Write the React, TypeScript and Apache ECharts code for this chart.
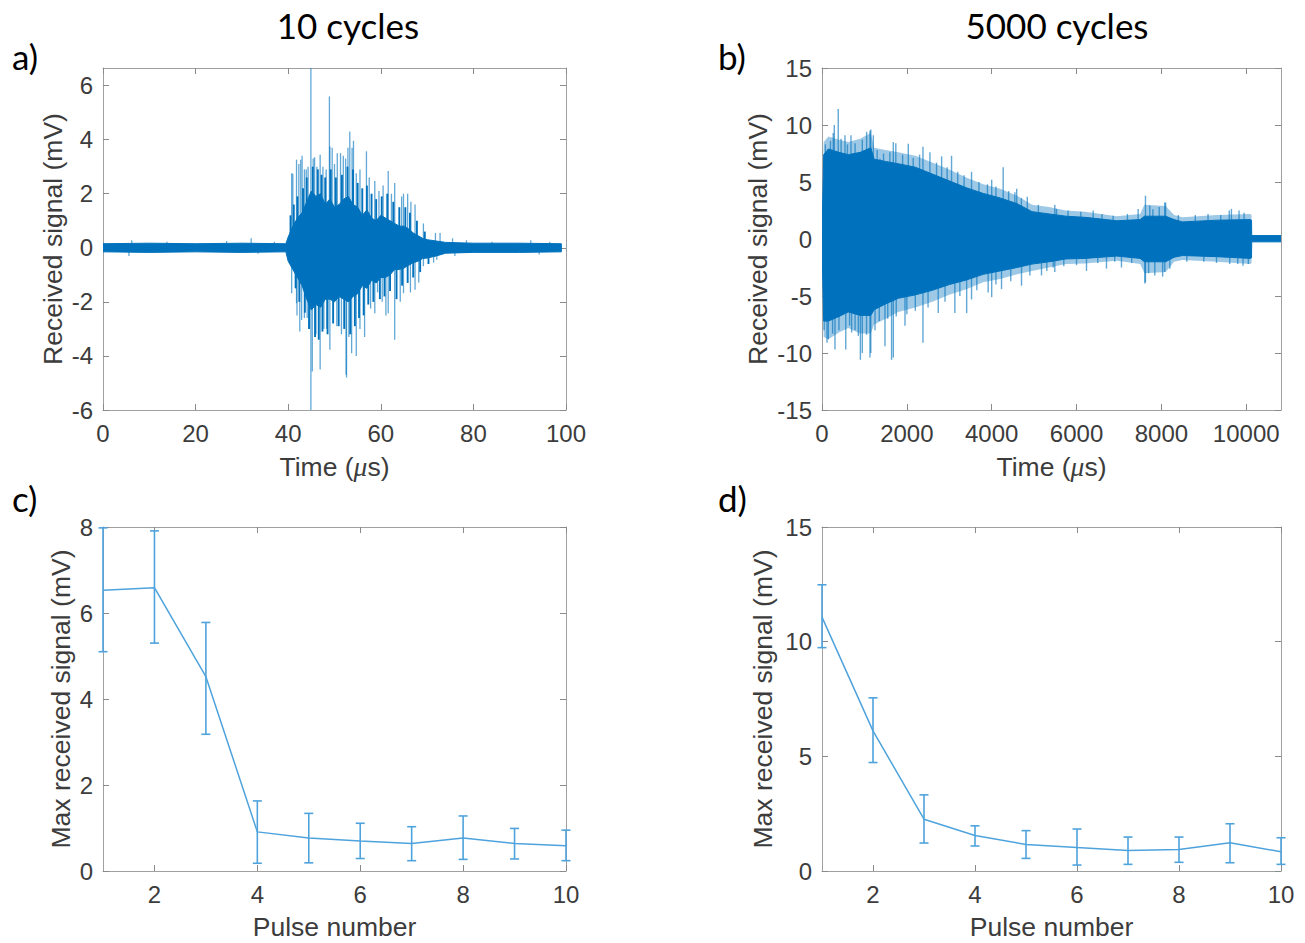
import React, { useEffect, useRef } from "react";
import * as echarts from "echarts";

// ---------- tick labels ----------
const aTimeTicks = [0, 20, 40, 60, 80, 100];
const aSignalTicks = [-6, -4, -2, 0, 2, 4, 6];
const bTimeTicks = [0, 2000, 4000, 6000, 8000, 10000];
const bSignalTicks = [-15, -10, -5, 0, 5, 10, 15];
const pulseTicks = [2, 4, 6, 8, 10];
const cMaxTicks = [0, 2, 4, 6, 8];
const dMaxTicks = [0, 5, 10, 15];

// ---------- panel a: 10 cycles (time in µs, signal in mV) ----------
const aCoreTime = [0, 10, 20, 30, 39.5, 40, 41, 42, 43, 44, 45, 46, 47, 48, 49, 50, 51, 52, 53, 54, 55, 56, 57, 58, 59, 60, 61, 62, 63, 64, 65, 66, 67, 68, 69, 70, 72, 74, 80, 90, 99];
const aCoreHigh = [0.15, 0.17, 0.15, 0.17, 0.15, 0.4, 0.8, 1.1, 1.3, 1.7, 2.1, 1.9, 2.0, 1.6, 1.8, 1.5, 1.6, 1.8, 1.9, 1.6, 1.5, 1.2, 1.4, 1.1, 1.0, 1.2, 1.1, 1.0, 0.9, 0.8, 0.8, 0.7, 0.55, 0.45, 0.35, 0.3, 0.25, 0.2, 0.17, 0.17, 0.15];
const aCoreLow = [-0.15, -0.17, -0.15, -0.17, -0.15, -0.5, -0.8, -1.1, -1.4, -1.9, -2.3, -2.1, -2.2, -1.9, -1.9, -2.0, -1.8, -1.9, -2.0, -1.8, -1.7, -1.4, -1.5, -1.2, -1.3, -1.1, -1.1, -1.0, -0.8, -0.8, -0.75, -0.65, -0.55, -0.5, -0.4, -0.38, -0.3, -0.2, -0.17, -0.17, -0.15];
// dark, dense oscillation peaks inside the burst
const aDensePeaks: [number, number][] = [
  [40.5, 1.2], [41.2, 1.6], [41.6, -1.5], [42.0, 1.9], [42.4, -2.0], [43.2, 2.2], [43.6, -2.4], [44.0, 2.6], [44.5, -3.0],
  [45.3, 3.0], [45.8, -3.3], [46.4, 2.9], [46.6, -3.4], [47.2, 2.7], [47.4, -3.1], [48.0, 2.6], [48.5, -3.2], [49.2, 2.9],
  [49.7, -2.8], [50.3, 2.6], [50.9, -2.9], [51.6, 2.7], [52.1, -3.0], [52.8, 3.0], [53.4, -3.2], [54.0, 2.9], [54.4, -2.9],
  [55.0, 2.4], [55.3, -2.6], [56.0, 2.2], [56.3, -2.5], [57.0, 2.3], [57.3, -2.1], [58.0, 2.0], [58.4, -2.0], [59.0, 1.8],
  [59.8, -1.9], [60.2, 1.9], [60.8, -1.8], [61.4, 2.0], [62.0, -1.6], [62.7, 1.7], [63.4, -1.9], [64.0, 1.5], [64.6, -1.4],
  [65.3, 1.5], [65.8, -1.3], [66.3, 1.3], [67.0, -1.1], [67.8, 1.0], [68.5, -0.9], [69.5, 0.6], [70.3, -0.6],
];
// thin outer spikes
const aSpikes: [number, number][] = [
  [5.6, -0.3], [6.2, 0.28], [13.8, 0.22], [26.7, 0.25], [32.0, 0.35], [33.5, -0.22], [37.0, 0.22],
  [40.75, 2.76], [41.0, 2.74], [41.8, 3.26], [42.3, 3.1], [42.7, 3.26], [43.0, 3.4], [43.5, 2.9], [43.9, 2.9], [44.3, 3.0],
  [44.9, 6.65], [45.4, 3.3], [45.7, 3.35], [46.2, 3.0], [46.9, 3.44], [47.5, 3.0], [48.2, 2.9], [48.9, 5.6], [49.0, 3.75],
  [49.5, 3.7], [50.0, 3.1], [50.6, 3.5], [51.3, 3.5], [51.9, 3.4], [52.4, 3.3], [52.9, 3.7], [53.3, 4.3], [53.8, 3.7],
  [54.1, 3.96], [54.7, 2.76], [55.5, 2.9], [56.9, 3.57], [57.5, 2.6], [58.7, 2.47], [59.6, 2.1], [60.5, 2.3], [61.6, 2.84],
  [62.3, 2.0], [63.0, 2.4], [64.5, 1.9], [64.9, 2.0], [65.8, 2.0], [66.5, 1.7], [67.4, 1.6], [69.2, 0.9], [71.8, 0.55], [72.8, 0.55],
  [40.75, -1.68], [41.8, -2.05], [41.9, -2.5], [42.5, -3.1], [42.9, -2.67], [43.5, -2.6], [44.1, -2.6], [44.9, -6.0],
  [45.2, -4.58], [46.0, -3.2], [46.9, -4.5], [47.7, -3.0], [48.3, -3.0], [49.0, -3.77], [50.5, -2.9], [51.5, -3.2],
  [52.5, -4.7], [52.6, -4.8], [53.1, -3.3], [53.7, -3.9], [54.7, -4.0], [55.5, -3.0], [56.5, -3.3], [57.8, -2.25],
  [58.7, -2.42], [59.3, -1.65], [60.3, -2.0], [61.1, -2.5], [61.6, -2.42], [63.0, -3.4], [64.2, -2.0], [64.9, -1.68],
  [66.4, -1.65], [67.4, -1.55], [68.2, -1.28], [69.2, -0.68], [71.4, -0.55], [72.1, -0.44],
  [75.5, 0.35], [76.0, -0.3], [78.5, 0.28], [84.0, 0.22], [92.4, 0.28], [94.2, -0.25], [96.5, 0.22],
];

// ---------- panel b: 5000 cycles ----------
const bCoreTime = [0, 40, 150, 400, 620, 900, 1150, 1230, 1500, 1800, 2200, 2600, 3000, 3400, 3800, 4200, 4600, 4950, 5350, 5750, 6200, 6950, 7500, 7600, 8100, 8300, 8500, 9300, 10100, 10125, 10130, 10820];
const bCoreHigh = [0.3, 7.4, 7.9, 7.6, 7.4, 7.6, 8.0, 7.0, 6.8, 6.6, 6.3, 5.7, 5.1, 4.5, 4.0, 3.6, 3.1, 2.4, 2.2, 2.0, 1.9, 1.6, 1.7, 2.0, 2.0, 1.7, 1.5, 1.65, 1.7, 1.65, 0.3, 0.3];
const bCoreLow = [-0.3, -7.2, -7.2, -6.8, -6.4, -6.7, -6.7, -6.2, -5.7, -5.2, -4.9, -4.5, -4.0, -3.6, -3.1, -2.8, -2.5, -2.2, -2.0, -1.75, -1.7, -1.5, -1.7, -2.0, -2.0, -1.6, -1.45, -1.55, -1.7, -1.65, -0.25, -0.25];
const bFringeHigh = [0.3, 8.5, 9.0, 8.7, 8.5, 8.8, 9.3, 8.0, 7.8, 7.6, 7.3, 6.7, 6.1, 5.4, 4.8, 4.4, 3.8, 3.0, 2.8, 2.5, 2.4, 2.0, 2.2, 3.0, 2.9, 2.1, 1.9, 2.1, 2.2, 2.1, 0.3, 0.3];
const bFringeLow = [-0.3, -8.6, -8.8, -8.2, -7.8, -8.3, -8.3, -7.5, -7.0, -6.4, -6.0, -5.5, -4.9, -4.4, -3.8, -3.5, -3.1, -2.8, -2.5, -2.2, -2.15, -1.9, -2.2, -3.0, -2.9, -2.0, -1.85, -2.0, -2.2, -2.1, -0.25, -0.25];
const bSpikes: [number, number][] = [
  [80, 8.3], [200, 8.6], [265, 9.3], [290, 10.0], [383, 11.4], [450, 8.8], [542, 9.1], [600, 8.3], [683, 9.1], [780, 8.4],
  [950, 8.7], [1052, 9.4], [1131, 9.5], [1150, 9.6], [1210, 9.1], [1300, 7.8], [1367, 7.05], [1450, 7.5], [1600, 7.6],
  [1681, 8.5], [1740, 8.4], [1900, 7.4], [2034, 8.35], [2150, 7.1], [2300, 7.4], [2380, 8.1], [2544, 7.6], [2700, 6.7],
  [2820, 7.25], [2950, 6.3], [3054, 7.3], [3200, 5.9], [3350, 5.6], [3525, 5.9], [3700, 5.0], [3900, 4.8], [4000, 5.2],
  [4100, 4.6], [4271, 6.3], [4400, 4.2], [4546, 4.1], [4590, 4.4], [4700, 3.6], [4840, 3.7], [5100, 3.0], [5488, 3.0],
  [5529, 2.64], [5800, 2.5], [6100, 2.4], [6392, 2.5], [6600, 2.2], [6863, 2.05], [7200, 2.2], [7452, 2.64], [7625, 3.8],
  [7727, 2.94], [7800, 2.6], [7950, 2.8], [8080, 3.2], [8100, 3.2], [8400, 2.1], [8800, 2.1], [9100, 2.2], [9400, 2.1],
  [9600, 2.5], [9651, 2.64], [9831, 2.5], [9950, 2.3],
  [50, -8.0], [118, -9.1], [149, -8.8], [250, -8.3], [306, -9.7], [400, -8.0], [560, -9.7], [650, -7.6], [699, -8.2],
  [780, -8.0], [856, -8.5], [905, -10.6], [950, -10.0], [1050, -8.4], [1131, -10.4], [1150, -10.0], [1250, -8.0],
  [1350, -7.2], [1484, -9.4], [1550, -7.0], [1640, -10.6], [1681, -10.4], [1750, -6.8], [1956, -7.6], [2000, -6.6],
  [2200, -6.3], [2380, -9.1], [2500, -6.0], [2740, -6.5], [2900, -5.5], [3132, -6.5], [3250, -5.0], [3410, -6.5],
  [3525, -5.3], [3650, -4.5], [3917, -4.7], [4000, -5.1], [4100, -4.0], [4232, -4.4], [4450, -3.7], [4703, -4.1],
  [4900, -3.2], [5174, -3.2], [5300, -2.8], [5450, -2.5], [5488, -2.9], [5700, -2.4], [6000, -2.3], [6235, -2.8],
  [6500, -2.1], [6706, -2.6], [6900, -2.0], [7059, -2.5], [7300, -2.1], [7610, -3.9], [7625, -3.8], [7700, -3.0],
  [7845, -3.2], [8030, -3.3], [8080, -2.9], [8200, -2.6], [8600, -2.0], [9000, -2.0], [9300, -2.1], [9611, -2.2],
  [9800, -2.2], [9925, -2.35], [10050, -2.2],
];

// ---------- panel c: 10 cycles, max received signal per pulse ----------
const cPulse = [1, 2, 3, 4, 5, 6, 7, 8, 9, 10];
const cMean = [6.53, 6.59, 4.52, 0.91, 0.77, 0.70, 0.64, 0.77, 0.64, 0.59];
const cLow = [5.10, 5.30, 3.18, 0.18, 0.19, 0.29, 0.24, 0.27, 0.28, 0.24];
const cHigh = [7.98, 7.91, 5.78, 1.63, 1.34, 1.11, 1.03, 1.28, 0.99, 0.95];

// ---------- panel d: 5000 cycles ----------
const dPulse = [1, 2, 3, 4, 5, 6, 7, 8, 9, 10];
const dMean = [11.07, 6.11, 2.26, 1.55, 1.16, 1.02, 0.89, 0.94, 1.23, 0.84];
const dLow = [9.74, 4.73, 1.22, 1.09, 0.55, 0.26, 0.29, 0.38, 0.36, 0.29];
const dHigh = [12.48, 7.55, 3.32, 1.97, 1.76, 1.83, 1.48, 1.48, 2.06, 1.45];

// ---------- styles ----------
const WAVE = "#0072BD";
const WAVE_LIGHT = "rgba(0,114,189,0.62)";
const WAVE_FRINGE = "rgba(0,114,189,0.38)";
const PULSE = "#4fa3dd";
const BOX = "#a0a0a0";
const TICK = "#8a8a8a";
const TXT = "#3c3c3c";
const SANS = "'Liberation Sans', Arial, sans-serif";
const TICK_FS = 24;
const NAME_FS = 26.5;

const GRIDS = [
  { left: 103, top: 68, width: 463, height: 342 },
  { left: 822, top: 68, width: 459, height: 342 },
  { left: 103, top: 527, width: 463, height: 344 },
  { left: 822, top: 527, width: 459, height: 344 },
];

const timeName = "Time ({mu|μ}s)";
const nameStyle = {
  color: TXT,
  fontSize: NAME_FS,
  fontFamily: SANS,
  rich: {
    mu: { fontStyle: "italic", fontFamily: "'Liberation Serif', serif", fontSize: NAME_FS + 1, color: TXT },
  },
};

const plain = (v: number) => String(v);

function xAxesFor(grid: number, min: number, max: number, ticks: number[], name: string, nameGap: number) {
  const common: any = {
    type: "value",
    gridIndex: grid,
    min,
    max,
    splitLine: { show: false },
    axisLine: { show: true, onZero: false, lineStyle: { color: BOX, width: 1 } },
    axisTick: { show: true, inside: true, length: 6, customValues: ticks, lineStyle: { color: TICK, width: 1 } },
  };
  return [
    {
      ...common,
      position: "bottom",
      name,
      nameLocation: "middle",
      nameGap,
      nameTextStyle: nameStyle,
      axisLabel: { show: true, customValues: ticks, formatter: plain, margin: 11, color: TXT, fontSize: TICK_FS, fontFamily: SANS },
    },
    { ...common, position: "top", axisLabel: { show: false } },
  ];
}

function yAxesFor(grid: number, min: number, max: number, ticks: number[], name: string, nameGap: number) {
  const common: any = {
    type: "value",
    gridIndex: grid,
    min,
    max,
    splitLine: { show: false },
    axisLine: { show: true, onZero: false, lineStyle: { color: BOX, width: 1 } },
    axisTick: { show: true, inside: true, length: 6, customValues: ticks, lineStyle: { color: TICK, width: 1 } },
  };
  return [
    {
      ...common,
      position: "left",
      name,
      nameLocation: "middle",
      nameRotate: 90,
      nameGap,
      nameTextStyle: nameStyle,
      axisLabel: { show: true, customValues: ticks, formatter: plain, margin: 10, color: TXT, fontSize: TICK_FS, fontFamily: SANS },
    },
    { ...common, position: "right", axisLabel: { show: false } },
  ];
}

function bandSeries(idx: number, ts: number[], hi: number[], lo: number[], color: string, outline: boolean) {
  return {
    type: "custom",
    xAxisIndex: idx * 2,
    yAxisIndex: idx * 2,
    clip: true,
    silent: true,
    data: [[ts[0], 0]],
    renderItem: (_p: any, api: any) => {
      const pts: number[][] = [];
      for (let i = 0; i < ts.length; i++) pts.push(api.coord([ts[i], hi[i]]));
      for (let i = ts.length - 1; i >= 0; i--) pts.push(api.coord([ts[i], lo[i]]));
      return {
        type: "polygon",
        shape: { points: pts },
        style: outline ? { fill: color, stroke: color, lineWidth: 1 } : { fill: color, stroke: null, lineWidth: 0 },
      };
    },
  };
}

function spikeSeries(idx: number, spikes: [number, number][], color: string, width: number) {
  return {
    type: "custom",
    xAxisIndex: idx * 2,
    yAxisIndex: idx * 2,
    clip: true,
    silent: true,
    data: spikes,
    renderItem: (_p: any, api: any) => {
      const t = api.value(0);
      const v = api.value(1);
      const p0 = api.coord([t, 0]);
      const p1 = api.coord([t, v]);
      return {
        type: "line",
        shape: { x1: p0[0], y1: p0[1], x2: p1[0], y2: p1[1] },
        style: { stroke: color, lineWidth: width },
      };
    },
  };
}

function pulseSeries(idx: number, pulse: number[], mean: number[], low: number[], high: number[]) {
  return [
    {
      type: "line",
      xAxisIndex: idx * 2,
      yAxisIndex: idx * 2,
      data: pulse.map((p, i) => [p, mean[i]]),
      showSymbol: false,
      symbol: "none",
      silent: true,
      lineStyle: { color: PULSE, width: 1.5 },
      clip: true,
      z: 3,
    },
    {
      type: "custom",
      xAxisIndex: idx * 2,
      yAxisIndex: idx * 2,
      clip: false,
      silent: true,
      z: 3,
      data: pulse.map((p, i) => [p, low[i], high[i]]),
      renderItem: (_p: any, api: any) => {
        const x = api.value(0);
        const pl = api.coord([x, api.value(1)]);
        const ph = api.coord([x, api.value(2)]);
        const w = 4.5;
        const st = { stroke: PULSE, lineWidth: 1.6 };
        return {
          type: "group",
          children: [
            { type: "line", shape: { x1: pl[0], y1: pl[1], x2: ph[0], y2: ph[1] }, style: st },
            { type: "line", shape: { x1: pl[0] - w, y1: pl[1], x2: pl[0] + w, y2: pl[1] }, style: st },
            { type: "line", shape: { x1: ph[0] - w, y1: ph[1], x2: ph[0] + w, y2: ph[1] }, style: st },
          ],
        };
      },
    },
  ];
}

const TITLE_FONT = "35px Lato, 'Open Sans', sans-serif";

function textEl(text: string, x: number, y: number, align: string) {
  return {
    type: "text",
    x,
    y,
    silent: true,
    style: { text, x: 0, y: 0, align, verticalAlign: "middle", font: TITLE_FONT, fill: "#000" },
  };
}

export default function App() {
  const ref = useRef<HTMLDivElement>(null);
  useEffect(() => {
    if (!ref.current) return;
    const chart = echarts.init(ref.current, null, { renderer: "svg" });
    const option: any = {
      animation: false,
      backgroundColor: "#fff",
      grid: GRIDS.map((g) => ({ ...g, containLabel: false })),
      xAxis: [
        ...xAxesFor(0, 0, 100, aTimeTicks, timeName, 43),
        ...xAxesFor(1, 0, 10820, bTimeTicks, timeName, 43),
        ...xAxesFor(2, 1, 10, pulseTicks, "Pulse number", 42),
        ...xAxesFor(3, 1, 10, pulseTicks, "Pulse number", 42),
      ],
      yAxis: [
        ...yAxesFor(0, -6, 6.65, aSignalTicks, "Received signal (mV)", 37),
        ...yAxesFor(1, -15, 15, bSignalTicks, "Received signal (mV)", 51),
        ...yAxesFor(2, 0, 8, cMaxTicks, "Max received signal (mV)", 29),
        ...yAxesFor(3, 0, 15, dMaxTicks, "Max received signal (mV)", 46),
      ],
      series: [
        spikeSeries(0, aSpikes, WAVE_LIGHT, 1.3),
        spikeSeries(0, aDensePeaks, WAVE, 1.9),
        bandSeries(0, aCoreTime, aCoreHigh, aCoreLow, WAVE, true),
        spikeSeries(1, bSpikes, WAVE_LIGHT, 1.4),
        bandSeries(1, bCoreTime, bFringeHigh, bFringeLow, WAVE_FRINGE, false),
        bandSeries(1, bCoreTime, bCoreHigh, bCoreLow, WAVE, true),
        ...pulseSeries(2, cPulse, cMean, cLow, cHigh),
        ...pulseSeries(3, dPulse, dMean, dLow, dHigh),
      ],
      graphic: [
        textEl("10 cycles", 348, 25, "center"),
        textEl("5000 cycles", 1057, 25, "center"),
        textEl("a)", 12, 56, "left"),
        textEl("b)", 718, 56, "left"),
        textEl("c)", 12, 498, "left"),
        textEl("d)", 718, 498, "left"),
      ],
    };
    chart.setOption(option);
    return () => chart.dispose();
  }, []);
  return (
    <div
      ref={ref}
      style={{ position: "absolute", left: 0, top: 0, width: 1305, height: 943, background: "#fff" }}
    />
  );
}
